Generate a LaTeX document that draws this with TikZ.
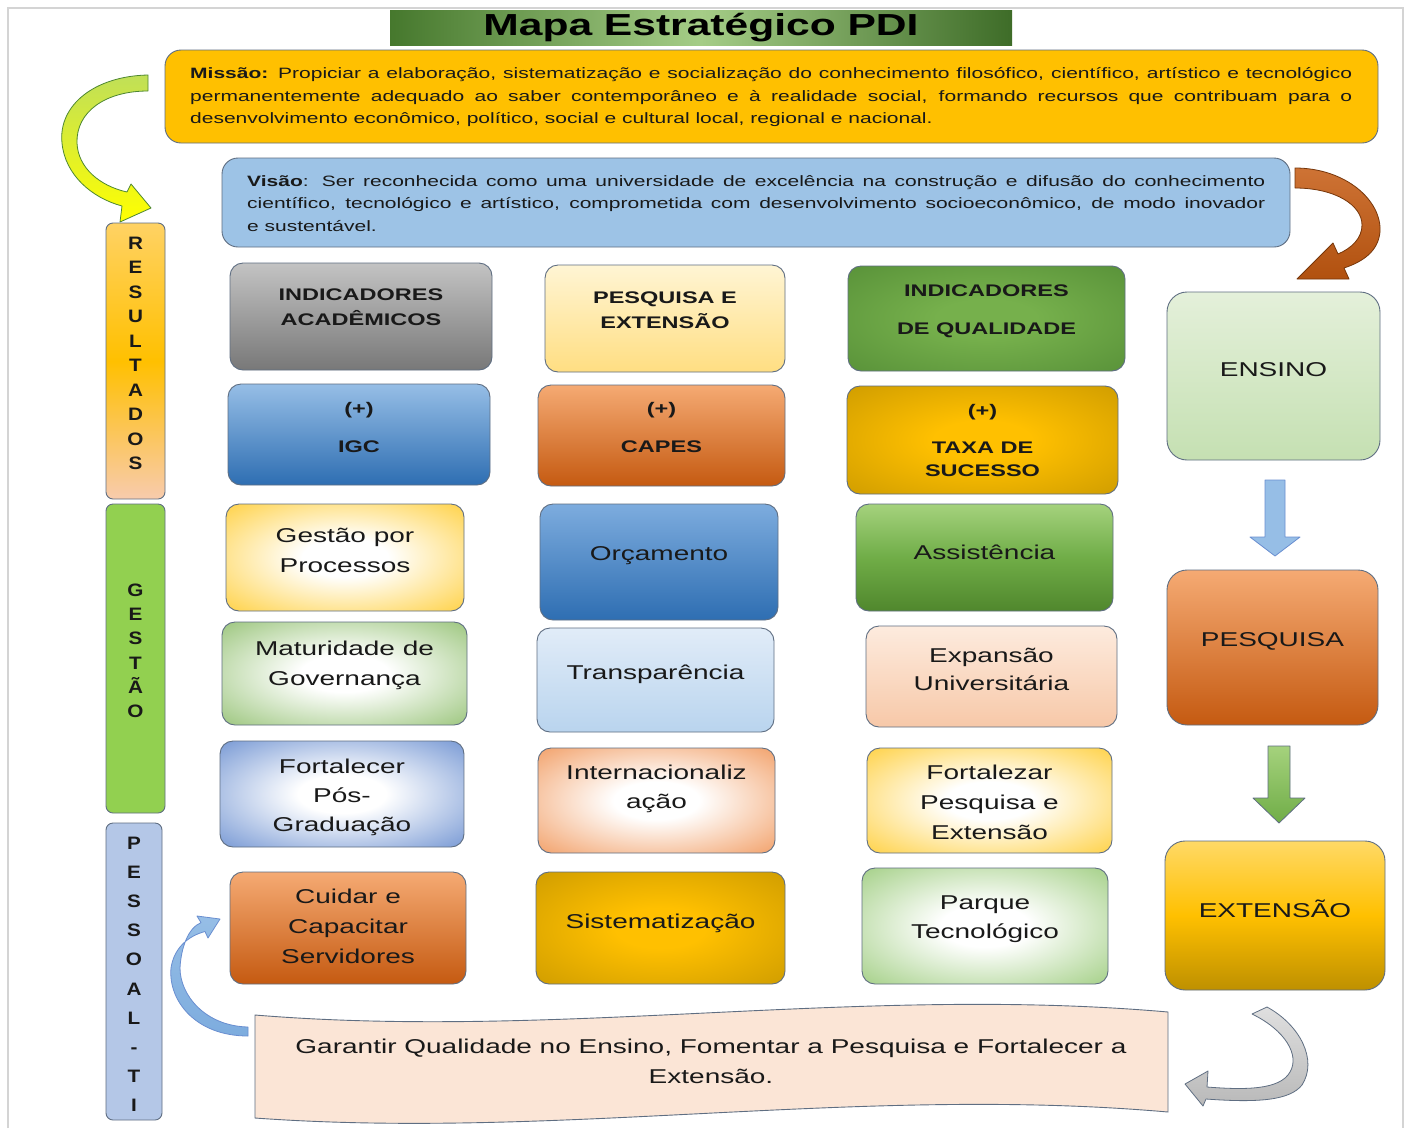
\documentclass[tikz,border=0pt]{standalone}
\usepackage{fontspec}
\setmainfont{Liberation Sans}[FakeStretch=1.4]
\newfontfamily\letterfont{Liberation Sans}[FakeStretch=1.15]
\usetikzlibrary{calc}
\definecolor{bordc}{RGB}{95,110,130}
\definecolor{txtc}{RGB}{25,25,25}
\definecolor{gray1}{RGB}{195,195,195}
\definecolor{gray2}{RGB}{120,120,120}
\definecolor{yel1}{RGB}{255,245,212}
\definecolor{yel2}{RGB}{255,222,130}
\definecolor{green1}{RGB}{118,176,76}
\definecolor{green2}{RGB}{78,135,50}
\definecolor{blue1}{RGB}{150,190,230}
\definecolor{blue2}{RGB}{46,110,178}
\definecolor{blue3}{RGB}{125,172,222}
\definecolor{blue4}{RGB}{68,114,196}
\definecolor{or1}{RGB}{245,170,115}
\definecolor{or2}{RGB}{197,90,17}
\definecolor{or3}{RGB}{237,125,49}
\definecolor{gold1}{RGB}{255,192,0}
\definecolor{gold2}{RGB}{190,144,0}
\definecolor{gold3}{RGB}{255,217,102}
\definecolor{grn3}{RGB}{165,210,125}
\definecolor{grn4}{RGB}{112,173,71}
\definecolor{grn5}{RGB}{80,135,45}
\definecolor{grn6}{RGB}{130,190,90}
\definecolor{lb1}{RGB}{225,236,248}
\definecolor{lb2}{RGB}{185,212,238}
\definecolor{peach1}{RGB}{253,235,222}
\definecolor{peach2}{RGB}{247,200,168}
\definecolor{lg1}{RGB}{228,240,218}
\definecolor{lg2}{RGB}{197,224,178}
\definecolor{misc}{RGB}{255,192,0}
\definecolor{visc}{RGB}{157,195,230}
\definecolor{bannerc}{RGB}{251,229,214}
\definecolor{framec}{RGB}{212,212,212}
\definecolor{tdark}{RGB}{70,120,45}
\definecolor{tlight}{RGB}{165,205,135}
\definecolor{tdark2}{RGB}{62,108,40}
\definecolor{resA}{RGB}{255,210,100}
\definecolor{resC}{RGB}{248,203,173}
\definecolor{gesc}{RGB}{146,208,80}
\definecolor{pesc}{RGB}{180,199,231}
\colorlet{radin}{white}
\colorlet{radout}{orange}
\pgfdeclareradialshading[radin,radout]{softrad}{\pgfpoint{0bp}{0bp}}{color(0bp)=(radin); color(9bp)=(radin); color(46bp)=(radout); color(50bp)=(radout)}
\newcommand\mapbox[9]{%
  \node[boxbase,#2,minimum width={(#5-#3)*1pt},minimum height={(#6-#4)*1pt},inner sep=0pt] (#1) at ({(#3+#5)/2},{(#4+#6)/2}) {};
  \node[#7] (#1t) at ({(#3+#5)/2},#8) {#9};}
\begin{document}
\begin{tikzpicture}[x=1pt,y=-1pt,
  boxbase/.style={draw=bordc,line width=0.9pt,rounded corners=13pt},
  vgrad/.style 2 args={top color=#1,bottom color=#2},
  vgradm/.style n args={3}{top color=#1,bottom color=#3,middle color=#2},
  rad/.style 2 args={/utils/exec={\colorlet{radin}{#1}\colorlet{radout}{#2}},shade,shading=softrad},
  btext/.style={align=center,font=\bfseries\fontsize{16.8}{25}\selectfont,text=txtc,inner sep=0pt},
  rtext/.style={align=center,font=\fontsize{20}{30}\selectfont,text=txtc,inner sep=0pt},
  mtext/.style={font=\fontsize{15}{22.5}\selectfont,text=txtc,inner sep=0pt,anchor=base west},
  letter/.style={font=\letterfont\bfseries\fontsize{18}{18}\selectfont,text=txtc,inner sep=0pt,anchor=base},
  barstyle/.style={draw=bordc,line width=0.9pt,rounded corners=7pt},
  blockarrow/.style={line width=0.8pt,line join=round}]
\useasboundingbox (0,0) rectangle (1408,1128);
\fill[white] (0,0) rectangle (1408,1128);
% page frame
\draw[framec,line width=1.2pt] (8,1128) -- (8,8) -- (1403,8) -- (1403,1128);
% title
\node[minimum width=622pt,minimum height=35pt,inner sep=0pt,left color=tdark,right color=tdark2,middle color=tlight] (tbar) at (701,27.5) {};
\node[font=\bfseries\fontsize{30.4}{36}\selectfont,text=black,anchor=base,inner sep=0pt] (title) at (701,35) {Mapa Estratégico PDI};
% mission
\node[boxbase,fill=misc,rounded corners=16pt,minimum width=1213pt,minimum height=93pt] (mis) at (771.5,96.5) {};
\node[mtext] (m1) at (190,78) {\makebox[1162pt][s]{\textbf{Missão:} Propiciar a elaboração, sistematização e socialização do conhecimento filosófico, científico, artístico e tecnológico}};
\node[mtext] (m2) at (190,101) {\makebox[1162pt][s]{permanentemente adequado ao saber contemporâneo e à realidade social, formando recursos que contribuam para o}};
\node[mtext] (m3) at (190,123.5) {desenvolvimento econômico, político, social e cultural local, regional e nacional.};
% vision
\node[boxbase,fill=visc,rounded corners=16pt,minimum width=1068pt,minimum height=89pt] (vis) at (756,202.5) {};
\node[mtext] (v1) at (247,186) {\makebox[1018pt][s]{\textbf{Visão}: Ser reconhecida como uma universidade de excelência na construção e difusão do conhecimento}};
\node[mtext] (v2) at (247,208.5) {\makebox[1018pt][s]{científico, tecnológico e artístico, comprometida com desenvolvimento socioeconômico, de modo inovador}};
\node[mtext] (v3) at (247,231) {e sustentável.};
% left bars
\node[barstyle,vgradm={resA}{gold1}{resC},minimum width=59pt,minimum height=276pt] (resbar) at (135.5,361) {};
\node[barstyle,fill=gesc,minimum width=59pt,minimum height=309pt] (gesbar) at (135.5,658.5) {};
\node[barstyle,fill=pesc,minimum width=56pt,minimum height=297pt] (pesbar) at (134,971.5) {};
\foreach \c [count=\i] in {R,E,S,U,L,T,A,D,O,S}
  \node[letter] (r\i) at (135.5,{249.5+(\i-1)*24.44}) {\c};
\foreach \c [count=\i] in {G,E,S,T,Ã,O}
  \node[letter] (g\i) at (135.5,{596.5+(\i-1)*24.2}) {\c};
\foreach \c [count=\i] in {P,E,S,S,O,A,L,-,T,I}
  \node[letter] (p\i) at (134,{849.5+(\i-1)*29.1}) {\c};
% grid boxes
\mapbox{ia}{vgrad={gray1}{gray2}}{230}{263}{492}{370}{btext}{307.5}{INDICADORES\\ACADÊMICOS}
\mapbox{pe}{vgrad={yel1}{yel2}}{545}{265}{785}{372}{btext}{310.5}{PESQUISA E\\EXTENSÃO}
\mapbox{iq}{rad={green1}{green2}}{848}{266}{1125}{371}{btext}{311}{INDICADORES\\[13pt]DE QUALIDADE}
\mapbox{igc}{vgrad={blue1}{blue2}}{228}{384}{490}{485}{btext}{427}{(+)\\[13pt]IGC}
\mapbox{capes}{vgrad={or1}{or2}}{538}{385}{785}{486}{btext}{427}{(+)\\[13pt]CAPES}
\mapbox{taxa}{rad={gold1}{gold2}}{847}{386}{1118}{494}{btext}{440}{(+)\\[12pt]TAXA DE\\[-2pt]SUCESSO}
\mapbox{gp}{rad={white}{gold1}}{226}{504}{464}{611}{rtext}{550}{Gestão por\\Processos}
\mapbox{orc}{vgrad={blue3}{blue2}}{540}{504}{778}{620}{rtext}{556}{Orçamento}
\mapbox{ass}{vgradm={grn3}{grn4}{grn5}}{856}{504}{1113}{611}{rtext}{552}{Assistência}
\mapbox{mg}{rad={white}{green1}}{222}{622}{467}{725}{rtext}{665}{Maturidade de\\Governança}
\mapbox{tr}{vgrad={lb1}{lb2}}{537}{628}{774}{732}{rtext}{674}{Transparência}
\mapbox{exu}{vgrad={peach1}{peach2}}{866}{626}{1117}{727}{rtext}{669}{Expansão\\[-2pt]Universitária}
\mapbox{fpg}{rad={white}{blue4}}{220}{741}{464}{847}{rtext}{797}{Fortalecer\\[-1pt]Pós-\\[-1pt]Graduação}
\mapbox{int}{rad={white}{or3}}{538}{748}{775}{853}{rtext}{788.5}{Internacionaliz\\[-1pt]ação}
\mapbox{fpe}{rad={white}{gold1}}{867}{748}{1112}{853}{rtext}{802}{Fortalezar\\Pesquisa e\\Extensão}
\mapbox{ccs}{vgrad={or1}{or2}}{230}{872}{466}{984}{rtext}{926.5}{Cuidar e\\Capacitar\\Servidores}
\mapbox{sis}{rad={gold1}{gold2}}{536}{872}{785}{984}{rtext}{923}{Sistematização}
\mapbox{pt}{rad={white}{grn6}}{862}{868}{1108}{984}{rtext}{919.5}{Parque\\[-1pt]Tecnológico}
\mapbox{ens}{vgrad={lg1}{lg2},rounded corners=20pt}{1167}{292}{1380}{460}{rtext}{370}{ENSINO}
\mapbox{pes}{vgrad={or1}{or2},rounded corners=20pt}{1167}{570}{1378}{725}{rtext}{641}{PESQUISA}
\mapbox{ext}{vgradm={gold3}{gold1}{gold2},rounded corners=20pt}{1165}{841}{1385}{990}{rtext}{909}{EXTENSÃO}
% straight block arrows
\draw[blockarrow,draw=blue4!80,fill=blue1] (1265,480) -- (1285,480) -- (1285,537) -- (1300,537) -- (1275,556) -- (1250,537) -- (1265,537) -- cycle;
\draw[blockarrow,draw=bordc,top color=grn3,bottom color=grn4] (1268,746) -- (1290,746) -- (1290,798) -- (1305,798) -- (1279,823) -- (1253,798) -- (1268,798) -- cycle;
% yellow curved arrow
\draw[blockarrow,draw=green2,top color=grn3!70!yellow,bottom color=yellow]
  (148,75) .. controls (95,76) and (58,105) .. (62,143)
  .. controls (65,175) and (92,198) .. (122,206)
  -- (120,222) -- (151,208) -- (131,184) -- (127,192)
  .. controls (100,186) and (78,168) .. (77,143)
  .. controls (76,112) and (105,91) .. (148,91) -- cycle;
% brown curved arrow
\draw[blockarrow,draw=or2!60!black,top color=or2!85!white,bottom color=or2!90!black]
  (1295,168) .. controls (1345,168) and (1382,200) .. (1380,232)
  .. controls (1378,252) and (1362,262) .. (1344,268)
  -- (1349,279) -- (1297,279) -- (1333,243) -- (1338,254)
  .. controls (1352,248) and (1362,238) .. (1362,225)
  .. controls (1362,205) and (1335,188) .. (1295,188) -- cycle;
% bottom banner
\draw[draw=bordc,line width=0.9pt,fill=bannerc]
  (255,1015) .. controls (560,1040) and (860,985) .. (1168,1012)
  -- (1168,1112) .. controls (860,1085) and (560,1140) .. (255,1118) -- cycle;
\node[rtext] (goal) at (711,1061) {Garantir Qualidade no Ensino, Fomentar a Pesquisa e Fortalecer a\\Extensão.};
% blue curved arrow (left bottom)
\draw[blockarrow,draw=blue4!80,top color=blue1,bottom color=blue3]
  (248,1036) .. controls (195,1036) and (168,1000) .. (171,968)
  .. controls (174,948) and (188,936) .. (205,931.5)
  -- (208,938) -- (220,919) -- (197,916) -- (201,922.6)
  .. controls (188,928) and (181,948) .. (180,968)
  .. controls (180,995) and (205,1026) .. (248,1027) -- cycle;
% gray curved arrow (bottom right)
\draw[blockarrow,draw=bordc,top color=gray!25,bottom color=gray!55]
  (1267,1007) .. controls (1300,1025) and (1318,1060) .. (1302,1085)
  .. controls (1290,1100) and (1260,1103) .. (1206,1099)
  -- (1203,1106) -- (1185,1084) -- (1208,1071) -- (1207,1087)
  .. controls (1245,1090) and (1280,1090) .. (1290,1072)
  .. controls (1300,1055) and (1285,1030) .. (1252,1014) -- cycle;
\end{tikzpicture}
\end{document}
